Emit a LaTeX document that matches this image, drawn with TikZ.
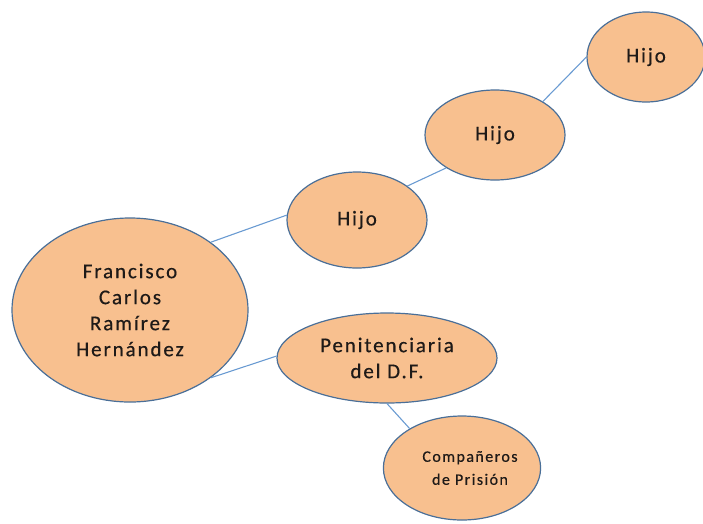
\documentclass[tikz,border=0pt]{standalone}
\usepackage{fontspec}
\setmainfont{Carlito}[LetterSpace=9,FakeBold=0.5]
\usetikzlibrary{shapes.geometric}
\definecolor{fillor}{HTML}{F8C08F}
\definecolor{edgeblue}{HTML}{4A6F98}
\definecolor{linkblue}{HTML}{6A9BD2}
\definecolor{txt}{HTML}{1E1A18}
\tikzset{
  bubble/.style={ellipse, draw=edgeblue, fill=fillor, line width=1.2pt, inner sep=0pt, align=center, text=txt, font=\fontsize{21}{26}\selectfont},
  link/.style={draw=linkblue, line width=1.1pt}
}
\begin{document}
\begin{tikzpicture}[x=1pt,y=-1pt]
\useasboundingbox (0,0) rectangle (703,523);
\node[bubble, minimum width=236pt, minimum height=184pt] (fc) at (130,310) {Francisco\\Carlos\\Ramírez\\Hernández};
\node[bubble, minimum width=140pt, minimum height=96pt] (h1) at (357,220) {Hijo};
\node[bubble, minimum width=140pt, minimum height=90pt] (h2) at (495,135) {Hijo};
\node[bubble, minimum width=118pt, minimum height=90pt] (h3) at (646,57) {Hijo};
\node[bubble, minimum width=220pt, minimum height=90pt] (pen) at (387,358) {Penitenciaria\\del D.F.};
\node[bubble, minimum width=154pt, minimum height=104pt, font=\fontsize{16}{23}\selectfont] (cp) at (462,468) {\hspace*{16pt}Compañeros\\\hspace*{16pt}de Prisión};
\draw[link] (fc.40) -- (h1.176);
\draw[link] (h1.34) -- (h2.214);
\draw[link] (h2.35) -- (h3.180);
\draw[link] (fc.-40) -- (pen.179);
\draw[link] (pen.270) -- (cp.143);
\end{tikzpicture}
\end{document}
